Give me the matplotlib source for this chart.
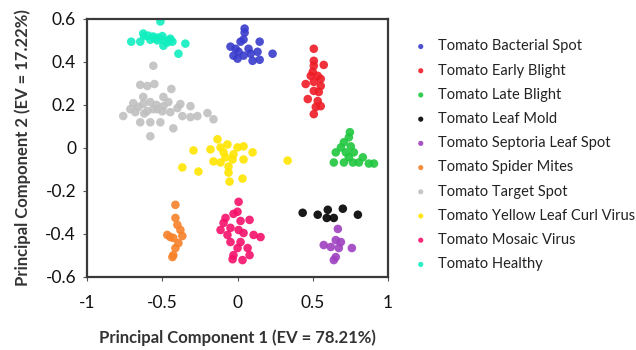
import matplotlib

matplotlib.use("Agg")
import matplotlib.pyplot as plt
from matplotlib.ticker import FuncFormatter

plt.rcParams["font.family"] = ["Lato", "DejaVu Sans"]
plt.rcParams["axes.unicode_minus"] = False

labels = [
    "Tomato Bacterial Spot",
    "Tomato Early Blight",
    "Tomato Late Blight",
    "Tomato Leaf Mold",
    "Tomato Septoria Leaf Spot",
    "Tomato Spider Mites",
    "Tomato Target Spot",
    "Tomato Yellow Leaf Curl Virus",
    "Tomato Mosaic Virus",
    "Tomato Healthy",
]
colors = ["#3a3ccc", "#ee1c25", "#1fc73e", "#000000", "#9e3fbf",
          "#f7822a", "#c0c0c0", "#ffe500", "#f5106a", "#10eebf"]

bacterial_x = [0.047, 0.047, 0.04, 0.02, 0.147, -0.047, -0.013, 0.007, -0.027, 0.0, 0.087, 0.133, 0.1, 0.147, 0.233, 0.04, 0.073]
bacterial_y = [0.555, 0.536, 0.504, 0.494, 0.494, 0.471, 0.461, 0.447, 0.429, 0.415, 0.438, 0.447, 0.405, 0.41, 0.438, 0.429, 0.461]

early_x = [0.507, 0.507, 0.573, 0.507, 0.5, 0.533, 0.453, 0.507, 0.553, 0.54, 0.467, 0.533, 0.52, 0.507, 0.487, 0.553, 0.507, 0.553]
early_y = [0.461, 0.405, 0.386, 0.382, 0.354, 0.335, 0.297, 0.307, 0.288, 0.26, 0.227, 0.218, 0.19, 0.157, 0.335, 0.321, 0.265, 0.194]

late_x = [0.747, 0.74, 0.707, 0.753, 0.687, 0.653, 0.72, 0.773, 0.833, 0.64, 0.707, 0.767, 0.807, 0.873, 0.907, 0.74]
late_y = [0.073, 0.049, 0.026, 0.007, 0.002, -0.021, -0.021, -0.021, -0.044, -0.068, -0.068, -0.068, -0.068, -0.073, -0.073, -0.044]

mold_x = [0.433, 0.533, 0.6, 0.593, 0.64, 0.7, 0.8]
mold_y = [-0.302, -0.311, -0.288, -0.326, -0.326, -0.283, -0.311]

septoria_x = [0.667, 0.653, 0.573, 0.62, 0.673, 0.76, 0.653, 0.64, 0.687]
septoria_y = [-0.377, -0.429, -0.452, -0.461, -0.466, -0.466, -0.508, -0.522, -0.438]

mites_x = [-0.413, -0.413, -0.4, -0.467, -0.427, -0.367, -0.393, -0.413, -0.427, -0.433, -0.447, -0.38]
mites_y = [-0.265, -0.326, -0.358, -0.405, -0.419, -0.41, -0.443, -0.466, -0.499, -0.508, -0.415, -0.382]

target_x = [-0.56, -0.647, -0.6, -0.553, -0.44, -0.627, -0.693, -0.627, -0.58, -0.493, -0.46, -0.38, -0.313,
            -0.76, -0.68, -0.6, -0.533, -0.447, -0.367, -0.313, -0.2, -0.16, -0.647, -0.58, -0.513, -0.427,
            -0.58, -0.56, -0.493, -0.267, -0.713, -0.4, -0.54, -0.62, -0.5, -0.66]
target_y = [0.382, 0.293, 0.288, 0.297, 0.274, 0.237, 0.208, 0.204, 0.213, 0.237, 0.213, 0.204, 0.194,
            0.148, 0.166, 0.171, 0.18, 0.166, 0.148, 0.143, 0.162, 0.133, 0.119, 0.119, 0.119, 0.091,
            0.054, 0.18, 0.194, 0.148, 0.18, 0.185, 0.2, 0.16, 0.17, 0.19]

yellow_x = [-0.133, -0.067, -0.18, -0.113, 0.0, 0.04, -0.293, 0.1, -0.16, -0.08, -0.033, 0.04, -0.367,
            -0.26, -0.06, 0.333, -0.06, 0.033, -0.053, -0.093, -0.027, -0.113]
yellow_y = [0.04, 0.016, -0.007, 0.002, 0.002, 0.007, -0.012, -0.021, -0.063, -0.044, -0.054, -0.054, -0.091,
            -0.11, -0.087, -0.059, -0.115, -0.143, -0.157, -0.021, -0.03, -0.068]

mosaic_x = [0.007, 0.0, -0.027, -0.08, 0.02, 0.08, -0.093, -0.113, -0.047, 0.007, 0.04, 0.107, 0.153,
            -0.047, 0.02, 0.0, 0.067, -0.027, -0.033, 0.033, 0.08, -0.067]
mosaic_y = [-0.251, -0.297, -0.307, -0.326, -0.34, -0.335, -0.349, -0.382, -0.372, -0.382, -0.396, -0.405, -0.415,
            -0.438, -0.438, -0.466, -0.466, -0.499, -0.518, -0.522, -0.499, -0.405]

healthy_x = [-0.513, -0.707, -0.647, -0.627, -0.593, -0.56, -0.527, -0.493, -0.447, -0.433, -0.493, -0.347,
             -0.393, -0.467, -0.58, -0.533, -0.55, -0.5, -0.45, -0.62]
healthy_y = [0.588, 0.494, 0.494, 0.532, 0.522, 0.518, 0.513, 0.503, 0.508, 0.494, 0.475, 0.485,
             0.438, 0.49, 0.503, 0.5, 0.51, 0.52, 0.5, 0.52]

xs = [bacterial_x, early_x, late_x, mold_x, septoria_x, mites_x, target_x, yellow_x, mosaic_x, healthy_x]
ys = [bacterial_y, early_y, late_y, mold_y, septoria_y, mites_y, target_y, yellow_y, mosaic_y, healthy_y]

fig = plt.figure(figsize=(6.36, 3.5), dpi=100)
ax = fig.add_axes([0.137, 0.209, 0.473, 0.737])

for x, y, c, lab in zip(xs, ys, colors, labels):
    ax.scatter(x, y, s=38, color=c, edgecolors="none", label=lab, alpha=0.9)

ax.set_xlim(-1, 1)
ax.set_ylim(-0.6, 0.6)
ax.set_xticks([-1, -0.5, 0, 0.5, 1])
ax.set_yticks([-0.6, -0.4, -0.2, 0, 0.2, 0.4, 0.6])
fmt = FuncFormatter(lambda v, p: "{:g}".format(round(v, 2)))
ax.xaxis.set_major_formatter(fmt)
ax.yaxis.set_major_formatter(fmt)
ax.tick_params(axis="both", labelsize=12.5, length=3, width=0.8, color="#555555", labelcolor="#111111")
ax.tick_params(axis="x", pad=10)
ax.tick_params(axis="y", pad=5)
for side in ax.spines.values():
    side.set_linewidth(1.6)
    side.set_color("#3a3a3a")

ax.set_xlabel("Principal Component 1 (EV = 78.21%)", fontsize=12, fontweight="bold", color="#333333", labelpad=13)
ax.set_ylabel("Principal Component 2 (EV = 17.22%)", fontsize=12, fontweight="bold", color="#333333", labelpad=10)

fig.legend(loc="upper left", bbox_to_anchor=(0.618, 0.925), frameon=False, fontsize=10.5,
           labelspacing=0.7, handletextpad=0.2, markerscale=0.6, labelcolor="#222222")

fig.savefig("out.png", dpi=100)
